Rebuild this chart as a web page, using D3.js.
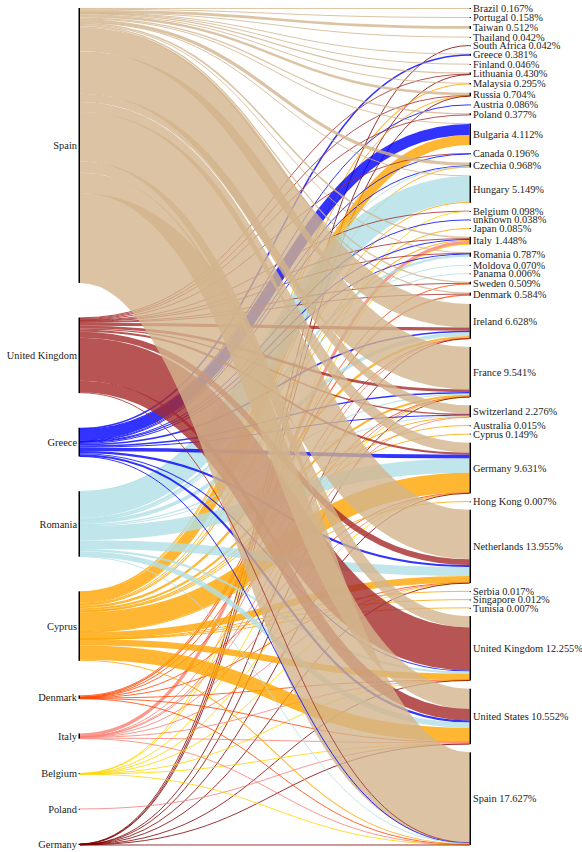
<!DOCTYPE html>
<html>
<head>
<meta charset="utf-8">
<script src="https://cdn.jsdelivr.net/npm/d3@7"></script>
<style>
  body { margin: 0; background: #fff; }
</style>
</head>
<body>
<div id="chart"></div>
<script>
// origin column (left) and its colours
const sources = ['Spain', 'United Kingdom', 'Greece', 'Romania', 'Cyprus', 'Denmark', 'Italy', 'Belgium', 'Poland', 'Germany'];
const sourceColors = ['tan', 'brown', 'blue', 'powderblue', 'orange', 'orangered', 'salmon', 'gold', 'lightcoral', 'maroon'];

// destination column (right), top to bottom, with the share printed in the label
const targets = ['Brazil', 'Portugal', 'Taiwan', 'Thailand', 'South Africa', 'Greece', 'Finland', 'Lithuania',
  'Malaysia', 'Russia', 'Austria', 'Poland', 'Bulgaria', 'Canada', 'Czechia', 'Hungary', 'Belgium', 'unknown',
  'Japan', 'Italy', 'Romania', 'Moldova', 'Panama', 'Sweden', 'Denmark', 'Ireland', 'France', 'Switzerland',
  'Australia', 'Cyprus', 'Germany', 'Hong Kong', 'Netherlands', 'Serbia', 'Singapore', 'Tunisia',
  'United Kingdom', 'United States', 'Spain'];
const targetPct = [0.167, 0.158, 0.512, 0.042, 0.042, 0.381, 0.046, 0.430, 0.295, 0.704, 0.086, 0.377,
  4.112, 0.196, 0.968, 5.149, 0.098, 0.038, 0.085, 1.448, 0.787, 0.070, 0.006, 0.509, 0.584, 6.628,
  9.541, 2.276, 0.015, 0.149, 9.631, 0.007, 13.955, 0.017, 0.012, 0.007, 12.255, 10.552, 17.627];

// flows (% of total), one list per origin
const fromSpain = [['Brazil', 0.167], ['Portugal', 0.158], ['Taiwan', 0.512], ['Thailand', 0.042], ['Greece', 0.08],
  ['Finland', 0.046], ['Lithuania', 0.25], ['Malaysia', 0.1], ['Russia', 0.45], ['Poland', 0.25], ['Bulgaria', 0.1],
  ['Czechia', 0.6], ['Hungary', 0.05], ['Italy', 0.3], ['Romania', 0.1], ['Sweden', 0.25], ['Denmark', 0.25],
  ['Ireland', 4.5], ['France', 8.1], ['Switzerland', 1.6], ['Germany', 1.9], ['Netherlands', 9.4],
  ['United Kingdom', 2.155], ['United States', 3.842], ['Spain', 17.102]];
const fromUK = [['Lithuania', 0.13], ['Russia', 0.15], ['Poland', 0.127], ['Canada', 0.1], ['Belgium', 0.05],
  ['Italy', 0.1], ['Romania', 0.1], ['Sweden', 0.12], ['Denmark', 0.1], ['Ireland', 0.6], ['France', 0.5],
  ['Switzerland', 0.25], ['Germany', 0.4], ['Netherlands', 1.1], ['United Kingdom', 8.2],
  ['United States', 2.2], ['Spain', 0.15]];
const fromGreece = [['Greece', 0.301], ['Austria', 0.086], ['Bulgaria', 2.1], ['Canada', 0.096], ['Czechia', 0.1],
  ['unknown', 0.038], ['Italy', 0.2], ['Romania', 0.15], ['Ireland', 0.3], ['France', 0.25], ['Switzerland', 0.12],
  ['Germany', 0.7], ['Netherlands', 0.4], ['United Kingdom', 0.2], ['United States', 0.4], ['Spain', 0.05]];
const fromRomania = [['Czechia', 0.1], ['Hungary', 4.95], ['Romania', 0.437], ['Moldova', 0.07], ['Panama', 0.006],
  ['Ireland', 0.7], ['France', 0.25], ['Switzerland', 0.1], ['Germany', 2.7], ['Netherlands', 1.7],
  ['United Kingdom', 0.4], ['United States', 1.0], ['Spain', 0.05]];
const fromCyprus = [['Malaysia', 0.195], ['Russia', 0.054], ['Bulgaria', 1.912], ['Czechia', 0.168], ['Hungary', 0.149],
  ['Japan', 0.085], ['Italy', 0.2], ['Ireland', 0.45], ['France', 0.4], ['Switzerland', 0.2], ['Australia', 0.015],
  ['Cyprus', 0.149], ['Germany', 3.8], ['Hong Kong', 0.007], ['Netherlands', 1.3], ['Serbia', 0.017],
  ['Singapore', 0.012], ['Tunisia', 0.007], ['United Kingdom', 1.2], ['United States', 2.7], ['Spain', 0.2]];
const fromDenmark = [['Sweden', 0.139], ['Denmark', 0.234], ['Ireland', 0.03], ['France', 0.01], ['Germany', 0.05],
  ['Netherlands', 0.02], ['United Kingdom', 0.04], ['United States', 0.1], ['Spain', 0.02]];
const fromItaly = [['Italy', 0.6], ['Ireland', 0.03], ['France', 0.02], ['Switzerland', 0.006], ['Germany', 0.05],
  ['Netherlands', 0.02], ['United Kingdom', 0.04], ['United States', 0.2], ['Spain', 0.03]];
const fromBelgium = [['Belgium', 0.048], ['Italy', 0.048], ['France', 0.005], ['Germany', 0.011],
  ['Netherlands', 0.005], ['United Kingdom', 0.01], ['United States', 0.02], ['Spain', 0.02]];
const fromPoland = [['United States', 0.06]];
const fromGermany = [['South Africa', 0.042], ['Lithuania', 0.05], ['Russia', 0.05], ['Ireland', 0.018],
  ['France', 0.006], ['Germany', 0.02], ['Netherlands', 0.01], ['United Kingdom', 0.01],
  ['United States', 0.03], ['Spain', 0.005]];

const flows = [fromSpain, fromUK, fromGreece, fromRomania, fromCyprus, fromDenmark, fromItaly, fromBelgium, fromPoland, fromGermany];

const width = 582;
const height = 852;
const yTop = 8;
const yBottom = 845;
const padRight = 8.2;

const links = [];
sources.forEach((s, i) => {
  flows[i].forEach(([t, v]) => links.push({ si: i, ti: targets.indexOf(t), value: v }));
});
const total = d3.sum(links, (d) => d.value);

const ky = d3.scaleLinear()
  .domain([0, total])
  .range([0, (yBottom - yTop) - (targets.length - 1) * padRight]);
const padLeft = ((yBottom - yTop) - ky(total)) / (sources.length - 1);

const x = d3.scalePoint().domain(['source', 'target']).range([80, 469.5]);
const color = d3.scaleOrdinal().domain(sources).range(sourceColors);

// stack the nodes of one column
function stack(names, side, pad) {
  let y = yTop;
  return names.map((name, i) => {
    const value = d3.sum(links.filter((l) => (side === 'source' ? l.si : l.ti) === i), (l) => l.value);
    const node = { name, value, y0: y, y1: y + ky(value) };
    y = node.y1 + pad;
    return node;
  });
}
const srcNodes = stack(sources, 'source', padLeft);
const tgtNodes = stack(targets, 'target', padRight);

// link offsets: at the source in target order, at the target in source order
links.forEach((l) => { l.width = ky(l.value); });
srcNodes.forEach((n, i) => {
  let y = n.y0;
  links.filter((l) => l.si === i).sort((a, b) => a.ti - b.ti).forEach((l) => {
    l.sy = y + l.width / 2; y += l.width;
  });
});
tgtNodes.forEach((n, i) => {
  let y = n.y0;
  links.filter((l) => l.ti === i).sort((a, b) => a.si - b.si).forEach((l) => {
    l.ty = y + l.width / 2; y += l.width;
  });
});

const svg = d3.select('#chart')
  .append('svg')
  .attr('width', width)
  .attr('height', height)
  .attr('viewBox', [0, 0, width, height])
  .attr('font-family', '"Liberation Serif", "Times New Roman", Times, serif')
  .attr('font-size', 10.4);

const linkPath = d3.linkHorizontal();

// painted grouped by destination, top to bottom
svg.append('g')
  .attr('fill', 'none')
  .attr('stroke-opacity', 0.8)
  .selectAll('path')
  .data(links.slice().sort((a, b) => a.ti - b.ti || a.si - b.si))
  .join('path')
  .attr('d', (d) => linkPath({ source: [x('source'), d.sy], target: [x('target'), d.ty] }))
  .attr('stroke', (d) => color(sources[d.si]))
  .attr('stroke-width', (d) => Math.max(1, d.width));

// node bars
svg.append('g')
  .selectAll('rect')
  .data(srcNodes)
  .join('rect')
  .attr('x', x('source') - 1.5)
  .attr('y', (d) => d.y0)
  .attr('width', 1.5)
  .attr('height', (d) => Math.max(0.8, d.y1 - d.y0))
  .attr('fill', '#000');

svg.append('g')
  .selectAll('rect')
  .data(tgtNodes)
  .join('rect')
  .attr('x', x('target'))
  .attr('y', (d) => d.y0)
  .attr('width', 1.5)
  .attr('height', (d) => Math.max(0.8, d.y1 - d.y0))
  .attr('fill', '#000');

// labels
svg.append('g')
  .attr('fill', '#222')
  .selectAll('text')
  .data(srcNodes)
  .join('text')
  .attr('x', x('source') - 3)
  .attr('y', (d) => (d.y0 + d.y1) / 2)
  .attr('dy', '0.35em')
  .attr('text-anchor', 'end')
  .text((d) => d.name);

const fmt = d3.format('.3f');
svg.append('g')
  .attr('fill', '#222')
  .selectAll('text')
  .data(tgtNodes)
  .join('text')
  .attr('x', x('target') + 3.5)
  .attr('y', (d) => (d.y0 + d.y1) / 2)
  .attr('dy', '0.35em')
  .text((d, i) => `${d.name} ${fmt(targetPct[i])}%`);
</script>
</body>
</html>
